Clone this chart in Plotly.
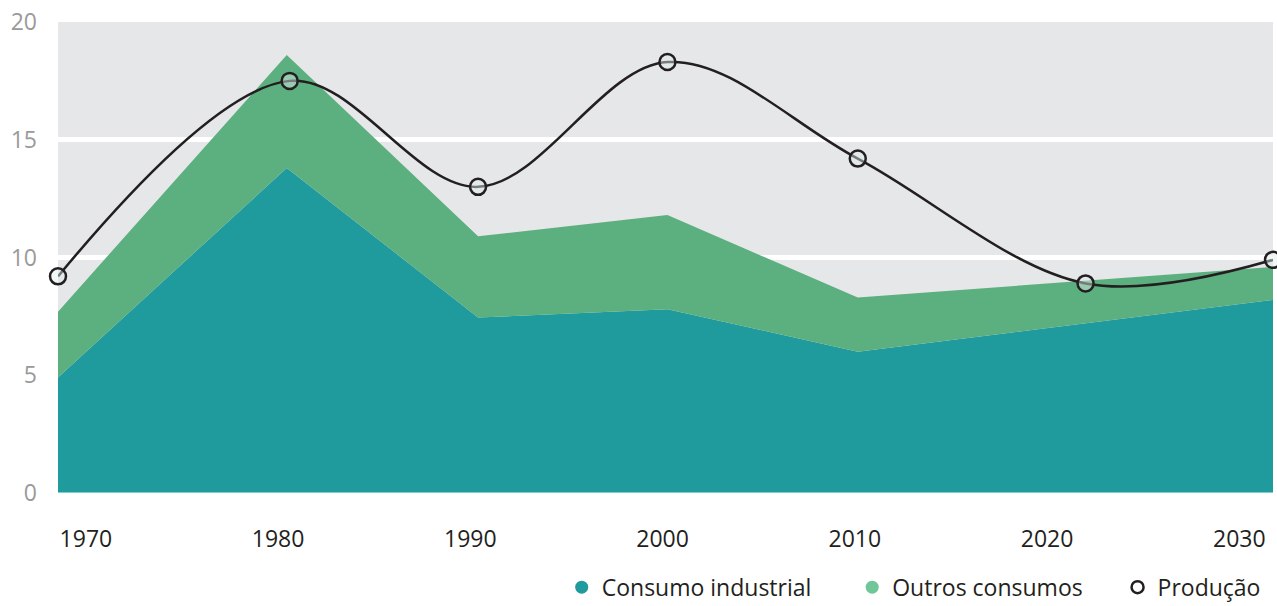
import plotly.graph_objects as go

# data
anos = [1968.55, 1980.45, 1990.4, 2000.25, 2010.15, 2022.0, 2031.75]
consumo_industrial = [4.9, 13.8, 7.45, 7.8, 6.0, 7.2, 8.2]
consumo_total = [7.7, 18.6, 10.9, 11.8, 8.3, 9.0, 9.6]
producao = [9.2, 17.5, 13.0, 18.3, 14.2, 8.9, 9.9]
anos_producao = [1968.55, 1980.6, 1990.4, 2000.25, 2010.15, 2022.0, 2031.75]
tick_anos = [1970, 1980, 1990, 2000, 2010, 2020, 2030]

TEAL = '#1F9A9D'
GREEN = '#5CAF7F'
GREEN_LEG = '#6EC699'
DARK = '#231F20'
NB = '\u00a0'

fig = go.Figure()

fig.add_trace(go.Scatter(x=anos, y=consumo_industrial, mode='lines', line=dict(width=0),
                         fill='tozeroy', fillcolor=TEAL, showlegend=False, hoverinfo='skip'))
fig.add_trace(go.Scatter(x=anos, y=consumo_total, mode='lines', line=dict(width=0),
                         fill='tonexty', fillcolor=GREEN, showlegend=False, hoverinfo='skip'))
fig.add_trace(go.Scatter(x=anos_producao, y=producao, mode='lines+markers',
                         line=dict(color=DARK, width=2.5, shape='spline', smoothing=1.0),
                         marker=dict(size=16, color='rgba(225,235,235,0.45)',
                                     line=dict(color=DARK, width=2.5)),
                         showlegend=False, cliponaxis=False))

# legend entries (circle markers)
fig.add_trace(go.Scatter(x=[None], y=[None], mode='markers', name='Consumo industrial' + NB * 6,
                         marker=dict(size=13, color=TEAL)))
fig.add_trace(go.Scatter(x=[None], y=[None], mode='markers', name='Outros consumos' + NB * 5,
                         marker=dict(size=13, color=GREEN_LEG)))
fig.add_trace(go.Scatter(x=[None], y=[None], mode='markers', name='Produção',
                         marker=dict(size=12, color='white', line=dict(color=DARK, width=2.5))))

fig.add_shape(type='line', xref='paper', yref='y', x0=0, x1=1, y0=0, y1=0,
              line=dict(color='#7FD0C2', width=2), layer='above')

fig.update_layout(
    width=1277, height=606,
    margin=dict(l=58, r=4, t=22, b=113, autoexpand=False),
    paper_bgcolor='white',
    plot_bgcolor='#E6E7E9',
    font=dict(family='Open Sans', size=20, color=DARK),
    xaxis=dict(range=[1968.55, 2031.75], tickvals=tick_anos, showgrid=False,
               zeroline=False, showline=False, ticks='',
               tickfont=dict(size=23, color=DARK), ticklabelstandoff=30),
    yaxis=dict(range=[0, 20], tickvals=[0, 5, 10, 15, 20], showgrid=True,
               gridcolor='white', gridwidth=5, zeroline=False, showline=False,
               ticks='', tickfont=dict(size=23, color='#9A9A9A'), ticklabelstandoff=20),
    legend=dict(orientation='h', x=0.994, xanchor='right', y=-0.2, yanchor='middle',
                traceorder='normal', font=dict(size=23, color=DARK), itemwidth=30,
                bgcolor='rgba(0,0,0,0)'),
)

fig.write_html("out.html", config={'displayModeBar': False},
               post_script="document.body.style.margin='0';")
